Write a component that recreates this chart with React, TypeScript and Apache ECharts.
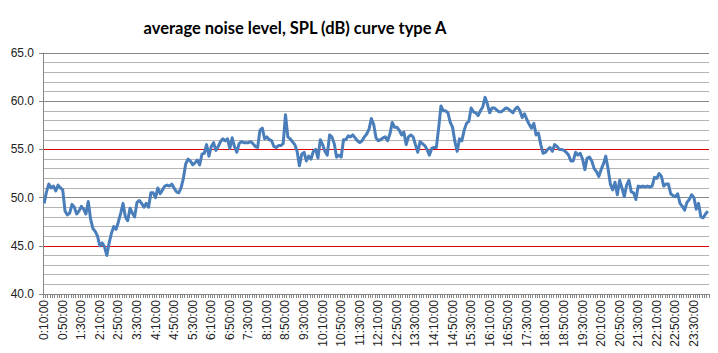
import React, { useEffect, useRef } from "react";
import * as echarts from "echarts";

const TITLE = "average noise level, SPL (dB) curve type A";

// time of the first sample (minutes after midnight) and step between samples
const START_MIN = 10;
const STEP_MIN = 5;

// average SPL (dB, A-weighted), one value per 5 minutes starting at 0:10:00
const splValues: number[] = [
  49.4, 50.6, 51.4, 51.0, 51.2, 50.7, 51.3, 51.0, 50.8, 48.6,
  48.2, 48.4, 49.3, 49.0, 48.3, 48.6, 49.1, 48.8, 48.3, 49.6,
  47.8, 46.8, 46.5, 46.0, 45.0, 45.3, 44.9, 44.0, 45.3, 46.3,
  47.0, 46.7, 47.5, 48.4, 49.4, 48.0, 47.6, 48.9, 48.4, 48.0,
  49.5, 49.7, 49.4, 49.0, 49.4, 49.0, 50.5, 50.5, 50.0, 51.0,
  50.4, 50.8, 51.2, 51.3, 51.2, 51.4, 51.0, 50.6, 50.5, 51.0,
  52.0, 53.5, 54.0, 53.8, 53.4, 53.6, 53.9, 53.4, 54.5, 54.6,
  55.5, 54.3, 55.3, 55.7, 54.9, 55.3, 55.8, 56.1, 55.9, 56.1,
  55.1, 56.2, 55.3, 54.7, 55.6, 55.8, 55.7, 55.7, 55.7, 55.8,
  55.6, 55.3, 55.2, 57.0, 57.2, 56.1, 56.3, 56.0, 55.9, 55.3,
  55.2, 55.4, 55.4, 55.6, 58.6, 56.3, 56.1, 55.8, 55.5, 54.8,
  53.3, 54.5, 54.7, 53.8, 54.3, 54.0, 54.8, 55.0, 54.1, 56.0,
  55.5, 54.8, 54.4, 56.5, 56.3, 55.6, 54.2, 54.4, 54.2, 56.0,
  56.0, 56.4, 56.3, 56.5, 56.2, 55.9, 55.7, 55.9, 56.3, 56.6,
  57.1, 58.2, 57.6, 56.2, 55.9, 56.0, 56.2, 56.3, 55.9, 56.6,
  57.8, 57.3, 57.3, 57.0, 56.5, 56.8, 55.5, 56.3, 56.5, 56.3,
  55.5, 54.7, 55.8, 55.6, 55.4, 55.0, 54.4, 55.1, 55.2, 55.2,
  57.2, 59.5, 59.0, 59.0, 58.8, 57.8, 57.3, 55.8, 54.8, 56.1,
  55.9, 57.0, 57.7, 57.9, 59.3, 58.9, 58.8, 58.5, 59.0, 59.4,
  60.4, 59.7, 58.8, 59.3, 59.3, 59.1, 58.9, 58.9, 59.1, 59.3,
  59.2, 59.0, 58.8, 59.2, 59.4, 59.0, 58.3, 58.7, 58.1, 57.6,
  57.2, 57.7, 56.5, 56.7, 55.5, 54.6, 54.7, 55.0, 55.2, 54.8,
  55.5, 55.3, 55.0, 55.0, 54.9, 54.7, 54.4, 53.8, 53.8, 54.7,
  54.4, 54.6, 54.0, 52.9, 54.1, 54.2, 53.8, 53.0, 52.7, 52.2,
  52.9, 53.5, 54.3, 53.0, 51.4, 50.8, 51.6, 50.3, 51.8, 51.0,
  50.1, 51.3, 51.8, 50.6, 50.5, 49.8, 51.2, 51.1, 51.2, 51.1,
  51.2, 51.1, 51.2, 52.1, 52.0, 52.5, 52.2, 51.2, 51.4, 51.4,
  50.4, 50.2, 50.1, 50.4, 49.4, 49.1, 48.7, 49.5, 49.8, 50.3,
  50.0, 48.8, 49.4, 48.0, 47.9, 48.3, 48.6,
];

// category labels: h:mm:ss for each sample
const timeLabels: string[] = splValues.map((_, i) => {
  const m = (START_MIN + i * STEP_MIN) % 1440;
  const h = Math.floor(m / 60);
  const mm = m % 60;
  return `${h}:${mm < 10 ? "0" : ""}${mm}:00`;
});

const Y_MIN = 40;
const Y_MAX = 65;
const Y_STEP = 5;

export default function App() {
  const ref = useRef<HTMLDivElement>(null);

  useEffect(() => {
    if (!ref.current) return;
    const chart = echarts.init(ref.current, undefined, { renderer: "svg" });
    const labelFont = "'Liberation Sans', Arial, sans-serif";
    chart.setOption({
      animation: false,
      backgroundColor: "#ffffff",
      title: {
        text: TITLE,
        left: 290,
        top: 14,
        textAlign: "center",
        textStyle: {
          fontFamily: "Lato, 'Liberation Sans', sans-serif",
          fontWeight: "bold",
          fontSize: 16.5,
          color: "#000000",
        },
      },
      grid: { left: 43, right: 9, top: 53, bottom: 59, containLabel: false },
      xAxis: {
        type: "category",
        data: timeLabels,
        boundaryGap: true,
        axisLine: { show: true, lineStyle: { color: "#868686", width: 1 } },
        axisTick: {
          show: true,
          interval: 0,
          length: 4,
          lineStyle: { color: "#868686", width: 1 },
        },
        axisLabel: {
          interval: 7,
          rotate: 90,
          margin: 6,
          fontSize: 12,
          fontFamily: labelFont,
          color: "#222222",
        },
        splitLine: { show: false },
      },
      yAxis: {
        type: "value",
        min: Y_MIN,
        max: Y_MAX,
        interval: Y_STEP,
        axisLine: { show: true, lineStyle: { color: "#868686", width: 1 } },
        axisTick: { show: true, length: 4, lineStyle: { color: "#868686" } },
        axisLabel: {
          formatter: (v: number) => v.toFixed(1),
          fontSize: 12,
          fontFamily: labelFont,
          color: "#222222",
          margin: 9,
        },
        splitLine: {
          show: true,
          lineStyle: {
            color: ["#868686", "#e00000", "#868686", "#e00000", "#868686", "#868686"],
            width: 1,
          },
        },
        minorTick: { show: false, splitNumber: 5 },
        minorSplitLine: { show: true, lineStyle: { color: "#b4b4b4", width: 1 } },
      },
      series: [
        {
          type: "line",
          data: splValues,
          showSymbol: false,
          symbol: "none",
          smooth: false,
          lineStyle: { color: "#4a7ebb", width: 3, join: "round" },
          itemStyle: { color: "#4a7ebb" },
          z: 5,
        },
      ],
    });
    return () => chart.dispose();
  }, []);

  return (
    <div
      ref={ref}
      style={{ position: "fixed", left: 0, top: 0, width: 718, height: 353 }}
    />
  );
}
